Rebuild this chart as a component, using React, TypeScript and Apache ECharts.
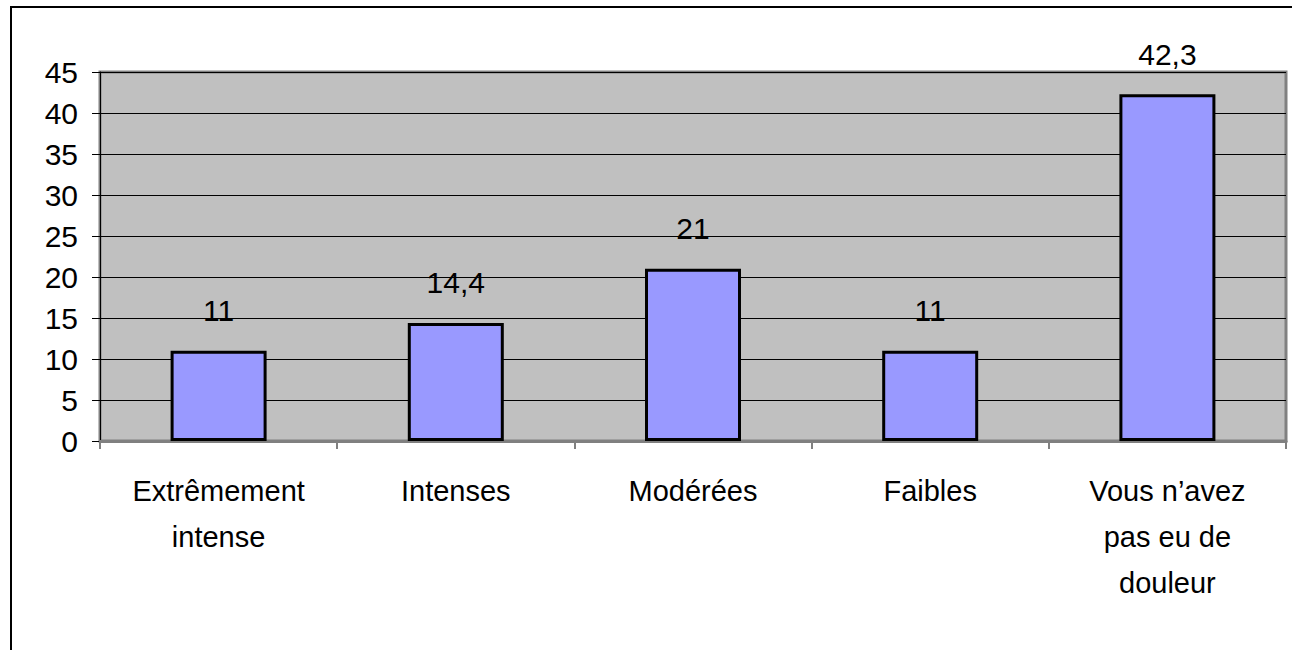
import React, { useEffect, useRef } from "react";
import * as echarts from "echarts";

const categories = [
  "Extrêmement\nintense",
  "Intenses",
  "Modérées",
  "Faibles",
  "Vous n’avez\npas eu de\ndouleur",
];
const values = [11, 14.4, 21, 11, 42.3];
const yMin = 0;
const yMax = 45;
const yStep = 5;

const FONT = "'Liberation Sans', Arial, sans-serif";

export default function App() {
  const ref = useRef<HTMLDivElement>(null);
  useEffect(() => {
    if (!ref.current) return;
    const chart = echarts.init(ref.current, undefined, { renderer: "svg" });
    chart.setOption({
      animation: false,
      backgroundColor: "#ffffff",
      textStyle: { fontFamily: FONT },
      graphic: [
        {
          type: "line",
          shape: { x1: 10, y1: 7, x2: 1292, y2: 7 },
          style: { stroke: "#000", lineWidth: 2 },
        },
        {
          type: "line",
          shape: { x1: 11, y1: 6, x2: 11, y2: 650 },
          style: { stroke: "#000", lineWidth: 2 },
        },
      ],
      grid: {
        left: 100,
        top: 72,
        right: 6,
        bottom: 209,
        show: true,
        backgroundColor: "#C0C0C0",
        borderColor: "#808080",
        borderWidth: 3,
      },
      xAxis: {
        type: "category",
        data: categories,
        boundaryGap: true,
        axisLine: { show: true, lineStyle: { color: "#808080", width: 3 } },
        axisTick: { show: true, length: 8, lineStyle: { color: "#808080", width: 2 } },
        axisLabel: {
          color: "#000",
          fontSize: 29,
          lineHeight: 46,
          margin: 27,
          fontFamily: FONT,
          interval: 0,
        },
      },
      yAxis: {
        type: "value",
        min: yMin,
        max: yMax,
        interval: yStep,
        axisLine: { show: true, lineStyle: { color: "#000", width: 1 } },
        axisTick: { show: true, length: 8, lineStyle: { color: "#000", width: 1 } },
        axisLabel: { color: "#000", fontSize: 30, margin: 22, fontFamily: FONT },
        splitLine: { show: true, lineStyle: { color: "#000", width: 1 } },
      },
      series: [
        {
          type: "bar",
          data: values,
          barWidth: 96,
          itemStyle: { color: "#9999FF", borderColor: "#000", borderWidth: 3 },
          label: {
            show: true,
            position: "top",
            distance: 25,
            color: "#000",
            fontSize: 30,
            fontFamily: FONT,
            formatter: (p: any) => String(p.value).replace(".", ","),
          },
        },
      ],
    });
    return () => chart.dispose();
  }, []);
  return (
    <div
      ref={ref}
      style={{ position: "absolute", left: 0, top: 0, width: 1292, height: 650 }}
    />
  );
}
